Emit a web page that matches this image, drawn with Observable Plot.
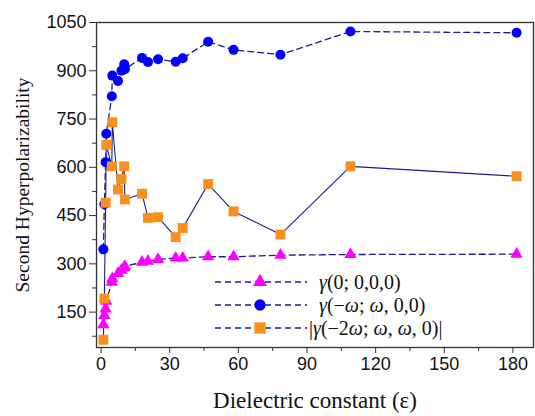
<!DOCTYPE html>
<html><head><meta charset="utf-8">
<script src="https://cdn.jsdelivr.net/npm/d3@7"></script>
<script src="https://cdn.jsdelivr.net/npm/@observablehq/plot@0.6"></script>
<style>body{margin:0;background:#fff}</style>
</head><body><div id="chart"></div>
<script>
// Dielectric constants of the solvents
const epsilon = [1, 1.43, 2.0, 2.27, 4.7, 4.9, 7.4, 8.9, 10.1, 10.4, 17.9, 20.5, 24.9, 32.6, 35.7, 46.8, 57.9, 78.4, 109, 181.6];
// gamma(0;0,0,0)
const gammaStatic = [111, 140, 160, 184, 243, 254, 270, 280, 287, 292, 305, 308, 314, 318, 318, 322, 322, 327, 329, 330];
// gamma(-w;w,0,0)
const gammaDcKerr = [345, 485, 616, 704, 821, 885, 868, 900, 920, 905, 940, 927, 936, 928, 939, 990, 965, 950, 1022, 1018];
// |gamma(-2w;w,w,0)|
const gammaEfishg = [64, 192, 490, 670, 603, 740, 531, 564, 603, 500, 518, 443, 445, 383, 411, 548, 463, 391, 603, 572];

const xTicks = [0, 30, 60, 90, 120, 150, 180];
const xMinorTicks = [15, 45, 75, 105, 135, 165];
const yTicks = [150, 300, 450, 600, 750, 900, 1050];
const yMinorTicks = [75, 225, 375, 525, 675, 825, 975];
const xTitle = "Dielectric constant (ε)";
const yTitle = "Second Hyperpolarizability";
const seriesLabels = ["γ(0; 0,0,0)", "γ(−ω; ω, 0,0)", "|γ(−2ω; ω, ω, 0)|"];

const lineColor = "#1c1c8a";
const colors = ["#ff00ff", "#0000ff", "#f7901e"];
const symbols = ["triangle", "circle", "square"];
const radii = [4.6, 5, 5.6];
const dashed = ["6,4", "6,4", null];
const widths = [1.3, 1.3, 1.1];

const series = [gammaStatic, gammaDcKerr, gammaEfishg];
const rows = series.flatMap((vals, s) => vals.map((v, i) => ({x: epsilon[i], y: v, s})));

const axisFont = {fontFamily: "Liberation Sans, Arial, sans-serif", fontSize: 18};
const serif = "Liberation Serif, Times New Roman, serif";
const fmt = d3.format("d");

const marks = [
  Plot.axisY(yMinorTicks, {tickSize: 4, text: null, label: null, stroke: "#333"}),
  Plot.axisY(yTicks, {tickSize: 7, tickPadding: 3, label: null, tickFormat: fmt, stroke: "#333", fill: "#111", ...axisFont}),
  Plot.axisX(xMinorTicks, {tickSize: 4, text: null, label: null, stroke: "#333"}),
  Plot.axisX(xTicks, {tickSize: 6, tickPadding: 4, label: null, tickFormat: fmt, stroke: "#333", fill: "#111", ...axisFont}),
  Plot.frame({stroke: "#333", strokeWidth: 1.3}),
  Plot.text([yTitle], {frameAnchor: "left", textAnchor: "middle", dx: -74, rotate: -90, fontFamily: serif, fontSize: 19.5, fill: "#111"}),
  Plot.text([xTitle], {frameAnchor: "bottom", textAnchor: "middle", dy: 60, fontFamily: serif, fontSize: 23, fill: "#111"})
];
series.forEach((vals, s) => {
  marks.push(Plot.line(rows.filter(d => d.s === s), {x: "x", y: "y", stroke: lineColor, strokeWidth: widths[s], strokeDasharray: dashed[s]}));
});
series.forEach((vals, s) => {
  marks.push(Plot.dot(rows.filter(d => d.s === s), {x: "x", y: "y", symbol: () => symbols[s], r: radii[s], fill: colors[s], stroke: "none"}));
});

const chart = Plot.plot({
  width: 535, height: 416,
  marginLeft: 96, marginTop: 22, marginRight: 2, marginBottom: 69,
  x: {domain: [-2, 189]},
  y: {domain: [40, 1050]},
  symbol: {type: "identity"},
  style: {background: "#fff", overflow: "visible"},
  marks
});
document.getElementById("chart").appendChild(chart);

// Legend (inside the plot frame, lower right)
const svg = d3.select(chart);
const lg = svg.append("g").attr("class", "legend");
const legendX0 = 215, legendX1 = 307, legendMarkX = 260, legendTextX = [319, 319, 309], legendY0 = 282, legendDy = 23;
seriesLabels.forEach((label, s) => {
  const y = legendY0 + s * legendDy;
  lg.append("line").attr("x1", legendX0).attr("x2", legendX1).attr("y1", y).attr("y2", y)
    .attr("stroke", lineColor).attr("stroke-width", 1.3).attr("stroke-dasharray", "6,4");
  lg.append("path").attr("transform", `translate(${legendMarkX},${y})`)
    .attr("d", d3.symbol(s === 0 ? d3.symbolTriangle : s === 1 ? d3.symbolCircle : d3.symbolSquare, Math.PI * radii[s] * radii[s] * 1.3)())
    .attr("fill", colors[s]);
  const t = lg.append("text").attr("x", legendTextX[s]).attr("y", y).attr("dy", "0.35em")
    .attr("text-anchor", "start")
    .attr("font-family", serif).attr("font-size", 20).attr("fill", "#111");
  for (const ch of label.split(/([γω])/)) {
    if (!ch) continue;
    const ts = t.append("tspan").text(ch);
    if (ch === "γ" || ch === "ω") ts.attr("font-style", "italic");
  }
});
</script>
</body></html>
